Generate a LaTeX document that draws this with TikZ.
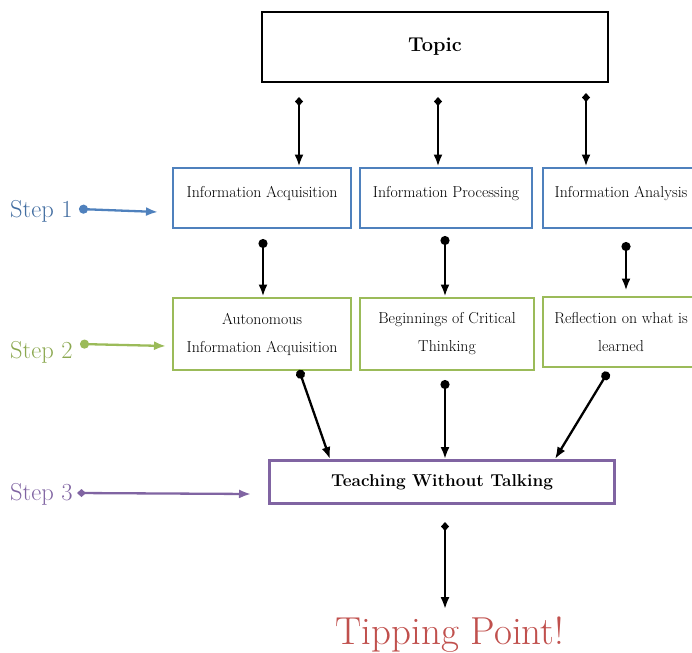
\documentclass[tikz,border=0pt]{standalone}
\usepackage{fontspec}
\usetikzlibrary{arrows.meta}
\definecolor{stepblue}{HTML}{4F81BD}
\definecolor{stepgreen}{HTML}{9BBB59}
\definecolor{steppurple}{HTML}{8064A2}
\definecolor{tipred}{HTML}{C0504D}
\tikzset{
  box/.style={draw, line width=2.9pt, fill=white, inner sep=0pt},
  topbox/.style={box, draw=black, minimum width=346pt, minimum height=70pt, font=\fontsize{20}{24}\selectfont\bfseries},
  levelI/.style={box, draw=stepblue, minimum height=60pt, text height=29pt, text depth=31pt, font=\fontsize{15.8}{28}\selectfont},
  levelII/.style={box, draw=stepgreen, minimum height=72pt, align=center, font=\fontsize{15.8}{28}\selectfont},
  levelIII/.style={box, draw=steppurple, minimum width=345pt, minimum height=43pt, font=\fontsize{17.2}{20}\selectfont\bfseries},
  steplabel/.style={inner sep=0pt, anchor=base west, font=\fontsize{24.5}{28}\selectfont},
  link/.style={line width=2.3pt, -{Latex[length=12pt,width=9pt]}},
  dlink/.style={link, {Diamond[length=9pt,width=8pt]}-{Latex[length=12pt,width=9pt]}},
  clink/.style={link, {Circle[length=9pt]}-{Latex[length=12pt,width=9pt]}},
}
\newcommand{\LevelI}[3][]{\node[levelI, #1] (#2) {#3};}
\newcommand{\LevelII}[3][]{\node[levelII, #1] (#2) {#3};}

\begin{document}
\begin{tikzpicture}[x=1pt, y=-1pt]
\useasboundingbox (0,0) rectangle (692,652);
\clip (0,0) rectangle (692,652);

\node[topbox] (topic) at (435,47) {Topic};

	\LevelI[minimum width=178pt, at={(262,198)}]{acq}{Information Acquisition}
	\LevelI[minimum width=172pt, at={(446,198)}]{proc}{Information Processing}
	\LevelI[minimum width=156pt, at={(621,198)}]{anal}{Information Analysis}
	\LevelII[minimum width=178pt, at={(262,334)}]{auto}{Autonomous\\Information Acquisition}
	\LevelII[minimum width=174pt, at={(447,334)}]{crit}{Beginnings of Critical\\Thinking}
	\LevelII[minimum width=156pt, minimum height=70pt, at={(621,332)}]{refl}{Reflection on what is\\learned}
	\node[levelIII] (teach) at (442,482) {Teaching Without Talking};
	\node[font=\fontsize{39}{42}\selectfont, text=tipred, anchor=base, inner sep=0pt] (tip) at (450,644) {Tipping Point!};

	\node[steplabel, text=stepblue!85!black] (s1) at (10,218) {Step 1};
	\node[steplabel, text=stepgreen!90!black] (s2) at (10,358) {Step 2};
	\node[steplabel, text=steppurple] (s3) at (10,500) {Step 3};

	\coordinate (t1) at (299,97);
	\coordinate (t2) at (438,97);
	\coordinate (t3) at (586,93);
	\coordinate (a1) at (263,239);
	\coordinate (a2) at (445,236);
	\coordinate (a3) at (626,242);
	\coordinate (b1) at (299,370);
	\coordinate (b2) at (445,380);
	\coordinate (b3) at (608,372);
	\coordinate (c1) at (445,522);
	\coordinate (p1) at (79,209);
	\coordinate (q1) at (158,212);
	\coordinate (p2) at (80,344);
	\coordinate (q2) at (166,346);
	\coordinate (p3) at (77,493);
	\coordinate (q3) at (251,494);

	\draw[dlink] (t1) -- (t1 |- acq.north);
	\draw[dlink] (t2) -- (t2 |- proc.north);
	\draw[dlink] (t3) -- (t3 |- anal.north);
	\draw[clink] (a1) -- (a1 |- auto.north);
	\draw[clink] (a2) -- (a2 |- crit.north);
	\draw[clink] (a3) -- ([yshift=5pt]a3 |- refl.north);
	\draw[clink] (b1) -- ([xshift=-112pt]teach.north);
	\draw[clink] (b2) -- (b2 |- teach.north);
	\draw[clink] (b3) -- ([xshift=113pt]teach.north);
	\draw[dlink] (c1) -- ([yshift=7pt]c1 |- tip.north);

	\draw[clink, color=stepblue] (p1) -- (q1);
	\draw[clink, color=stepgreen] (p2) -- (q2);
	\draw[dlink, color=steppurple] (p3) -- (q3);

\end{tikzpicture}
\end{document}
